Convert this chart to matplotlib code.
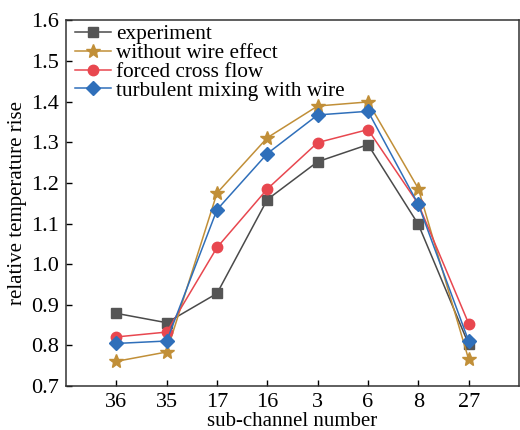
import matplotlib
matplotlib.use("Agg")
import matplotlib.pyplot as plt

plt.rcParams['font.family'] = ['Liberation Serif', 'DejaVu Serif']

channels = ["36", "35", "17", "16", "3", "6", "8", "27"]
experiment = [0.879, 0.856, 0.928, 1.159, 1.252, 1.294, 1.098, 0.803]
without_wire = [0.761, 0.784, 1.175, 1.311, 1.389, 1.399, 1.186, 0.766]
forced_cross = [0.821, 0.833, 1.041, 1.185, 1.299, 1.331, 1.148, 0.854]
turbulent = [0.805, 0.811, 1.134, 1.272, 1.367, 1.376, 1.147, 0.811]

x = list(range(1, len(channels) + 1))

fig = plt.figure(figsize=(5.2, 4.3), dpi=100)
ax = fig.add_axes([0.127, 0.102, 0.871, 0.851])

ax.plot(x, experiment, color='#4a4a4a', marker='s', ms=7, lw=1.1, mfc='#555555', mec='#555555', label='experiment')
ax.plot(x, without_wire, color='#c18f38', marker='*', ms=10.5, lw=1.1, mfc='#c18f38', mec='#c18f38', label='without wire effect')
ax.plot(x, forced_cross, color='#e8474f', marker='o', ms=7.5, lw=1.1, mfc='#e8474f', mec='#e8474f', label='forced cross flow')
ax.plot(x, turbulent, color='#2f6fba', marker='D', ms=7, lw=1.1, mfc='#2f6fba', mec='#2f6fba', label='turbulent mixing with wire')

ax.set_xlim(0, 9)
ax.set_ylim(0.7, 1.6)
ax.set_xticks(x)
ax.set_xticklabels(channels)
ax.set_yticks([0.7, 0.8, 0.9, 1.0, 1.1, 1.2, 1.3, 1.4, 1.5, 1.6])
ax.tick_params(direction='in', labelsize=16, length=4, width=1)
ax.tick_params(axis='y', pad=5)
ax.tick_params(axis='x', pad=5)
ax.set_xlabel('sub-channel number', fontsize=15, labelpad=0)
ax.set_ylabel('relative temperature rise', fontsize=15, labelpad=3)
for s in ax.spines.values():
    s.set_linewidth(1.1)
    s.set_color('#333333')

ax.legend(loc='upper left', bbox_to_anchor=(0.011, 1.0), frameon=False, fontsize=15.3,
          handlelength=1.7, labelspacing=-0.05, handletextpad=0.2,
          borderaxespad=0.2, borderpad=0.0)

fig.savefig('out.png', dpi=100)
